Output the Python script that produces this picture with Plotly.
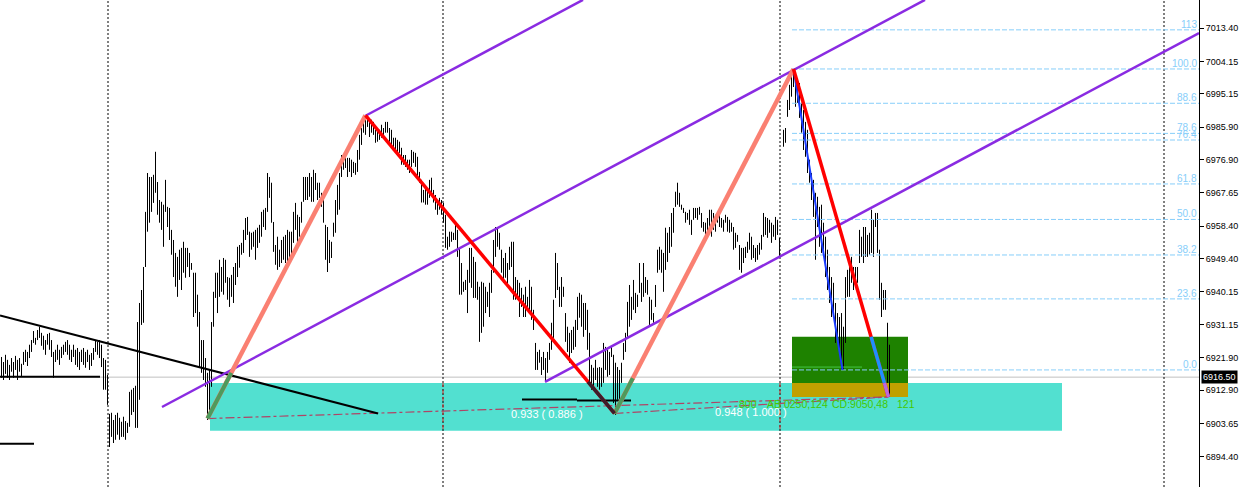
import plotly.graph_objects as go

# ---------------- price bars (high / low), one bar every 2 px, None = missing bar ----------------
HIGH = [
    # first session
    6922.1, 6920.7, 6922.7, 6921.3, 6919.9, 6921.8, 6920.7, 6922.4, 6921.3, 6921.8,
    6920.2, 6923.5, 6924.1, 6923.5, 6925.5, 6926.8, 6929.3, 6927.4, 6929.6, 6930.5,
    6928.8, 6928.0, 6926.8, 6928.5, 6928.8, 6926.8, 6923.5, 6924.1, 6925.5, 6924.1,
    6924.9, 6925.5, 6926.3, 6926.8, 6925.5, 6924.1, 6925.5, 6924.1, 6924.6, 6923.5,
    6924.1, 6924.6, 6923.5, 6924.1, 6922.7, 6923.2, 6924.6, 6926.8, 6926.3, 6926.8,
    6925.5, 6921.8, 6921.3, 6917.1, 6906.3, 6906.6, 6904.6, 6906.0, 6906.6, 6905.2,
    6904.1, 6905.5, 6904.3, 6903.8, 6912.4, 6913.0, 6913.5, 6914.1,
    # second part
    6931.8, 6937.1, 6940.7, 6947.1, 6962.4, 6973.2, 6972.1, 6972.1, 6972.7, 6979.1,
    6970.7, 6965.7, 6965.2, 6964.4, 6971.3, 6963.8, 6963.5, 6957.4, 6954.6, 6951.0,
    6949.9, 6951.9, 6952.4, 6954.1, 6952.4, 6952.4, 6951.0, 6948.2, 6945.5, 6945.5,
    6939.4, 6934.6, 6926.8, 6926.8, 6921.8, 6917.7, 6918.5, 6931.8, 6940.2, 6945.5,
    6945.5, 6949.1, 6947.1, 6949.6, 6949.1, 6944.3, 6944.1, 6944.9, 6947.1, 6948.2,
    6952.7, 6953.2, 6953.8, 6957.4, 6960.7, 6961.0, 6956.9, 6956.6, 6956.9, 6957.4,
    6958.0, 6958.8, 6962.4, 6963.0, 6963.5, 6973.2, 6972.1, 6970.5, 6959.6, 6953.2,
    6955.5, 6951.9, 6954.6, 6955.5, 6956.0, 6957.4, 6956.9, 6956.9, 6962.4, 6964.9,
    6961.6, 6961.0, 6965.2, 6972.1, 6972.1, 6972.1, 6973.2, 6972.1, 6974.1, 6973.2,
    6970.5, 6970.5, 6967.7, 6966.3, 6958.8, 6958.2, 6954.6, 6954.1, 6959.4, 6965.7,
    6969.9, 6973.2, 6978.2, 6977.4, 6978.8, 6977.4, 6977.4, 6976.9, 6976.3, 6976.0,
    6979.6, 6983.8, 6985.7, 6988.0, 6988.0, 6989.4, 6988.5, 6988.0, 6987.4, 6985.2,
    6984.6, 6985.2, 6986.6, 6985.7, 6987.4, 6987.4, 6985.7, 6985.2, 6983.0, 6983.0,
    6982.4, 6981.9, 6980.2, 6978.2, 6978.2, 6976.9, 6976.9, 6979.6, 6979.1, 6978.8,
    6977.7, 6973.5, 6971.3, 6968.5, 6969.4, 6968.5, 6971.3, 6971.9, 6968.5, 6967.1,
    6965.7, 6966.3, 6965.7, 6964.9, 6961.6, 6955.5, 6956.9, 6956.9, 6956.6, 6959.6,
    6957.4, 6952.4, 6948.2, 6943.0, 6943.5, 6946.3, 6952.4, 6952.4, 6949.9, 6948.5,
    6943.0, 6941.6, 6943.0, 6942.7, 6941.6, 6940.2, 6942.7, 6946.3, 6954.6, 6958.2,
    6957.9, 6956.6, 6951.9, 6949.6, 6951.0, 6948.2, 6952.7, 6954.1, 6954.1, 6944.3,
    6943.5, 6942.7, 6941.3, 6939.4, 6941.6, 6938.8, 6943.5, 6941.6, 6935.2, 6926.0,
    6923.5, 6924.1, 6922.1, 6923.5, 6921.8, 6923.5, 6926.0, 6931.6, 6938.0, 6951.0,
    6948.2, 6941.6, 6944.3, 6941.6, 6934.3, 6930.5, 6928.8, 6929.6, 6930.5, 6932.4,
    6938.8, 6939.9, 6939.4, 6937.1, 6937.1, 6935.2, 6928.8, 6919.9, 6919.1, 6921.3,
    6919.1, 6919.3, 6919.1, 6926.0, 6924.9, 6924.1, 6923.5, 6924.9, 6922.7, 6920.5,
    6919.3, 6918.5, 6920.5, 6926.0, 6928.8, 6937.4, 6942.1, 6938.8, 6943.5, 6939.9,
    6939.4, 6948.2, 6942.7, 6948.2, 6944.3, 6943.5, 6938.8, 6938.0, 6934.3, 6942.1,
    6951.9, 6952.7, 6951.9, 6951.0, 6958.0, 6956.6, 6958.2, 6962.1, 6963.5, 6968.0,
    6970.5, 6967.7, 6964.4, 6963.5, 6962.4, 6962.1, 6963.0, 6960.2, 6963.5, 6963.5,
    6963.5, 6963.8, 6962.1, 6959.6, 6959.4, 6960.7, 6963.0, 6963.0, 6962.1, 6961.6,
    6962.1, 6962.1, 6960.7, 6960.2, 6961.6, 6961.0, 6960.2, 6959.4, 6958.2, 6956.6,
    6956.0, 6953.2, 6952.4, 6952.4, 6952.7, 6954.1, 6956.6, 6955.5, 6953.2, 6952.4,
    6953.2, 6953.8, 6956.0, 6962.1, 6961.0, 6960.7, 6960.2, 6959.4, 6958.8, 6961.0,
    6960.2, 6955.2,
    None,
    # last session
    6985.2, 6985.7, 6993.5, 6997.7, 7000.5, 7002.1, 7000.5, 6999.6, 6998.2, 6992.7,
    6990.7, 6987.4, 6985.2, 6976.9, 6973.2, 6971.3, 6967.7, 6966.6, 6963.8, 6964.4,
    6959.4, 6955.5, 6951.9, 6947.1, 6944.3, 6942.7, 6937.1, 6934.3, 6933.2, 6934.3,
    6930.5, 6944.3, 6946.3, 6948.2, 6949.9, 6947.1, 6947.1, 6947.1, 6957.4, 6955.5,
    6958.2, 6958.2, 6956.0, 6956.6, 6963.0, 6960.2, 6962.1, 6962.1, 6951.9, 6942.7,
    6940.7, 6940.7, 6931.6, 6925.5,
]

LOW = [
    6916.3, 6915.7, 6917.4, 6916.3, 6915.7, 6918.0, 6916.3, 6918.5, 6915.7, 6918.0,
    6916.8, 6919.9, 6920.7, 6919.6, 6921.8, 6923.5, 6926.0, 6925.5, 6926.8, 6927.4,
    6925.2, 6924.1, 6922.7, 6925.5, 6924.1, 6922.1, 6916.3, 6920.7, 6921.3, 6919.9,
    6921.8, 6922.7, 6923.5, 6922.7, 6921.3, 6920.7, 6922.1, 6919.9, 6919.3, 6918.5,
    6920.7, 6919.9, 6919.1, 6920.7, 6918.5, 6919.6, 6921.3, 6923.5, 6922.7, 6921.8,
    6919.3, 6913.0, 6913.0, 6908.8, 6897.1, 6899.9, 6898.2, 6899.1, 6900.5, 6899.1,
    6899.9, 6899.9, 6899.1, 6901.0, 6902.7, 6906.0, 6906.8, 6902.4,
    6902.4, 6910.2, 6931.0, 6931.6, 6947.1, 6956.9, 6959.4, 6962.4, 6964.9, 6967.7,
    6961.6, 6959.4, 6957.4, 6952.7, 6962.4, 6958.2, 6954.6, 6950.5, 6944.3, 6941.6,
    6938.8, 6943.5, 6940.7, 6945.5, 6944.1, 6947.1, 6944.3, 6946.3, 6933.2, 6934.3,
    6930.5, 6919.3, 6917.7, 6915.7, 6913.8, 6904.6, 6905.2, 6913.8, 6930.5, 6938.5,
    6934.3, 6938.8, 6940.2, 6939.4, 6942.7, 6938.0, 6936.0, 6938.8, 6937.1, 6942.1,
    6944.3, 6946.9, 6950.5, 6951.0, 6954.6, 6956.0, 6949.9, 6951.9, 6952.7, 6949.1,
    6952.4, 6953.8, 6955.5, 6958.2, 6957.4, 6962.4, 6966.3, 6959.4, 6951.3, 6947.7,
    6946.3, 6947.1, 6948.2, 6949.1, 6948.2, 6947.1, 6949.1, 6950.5, 6953.8, 6957.4,
    6954.1, 6955.5, 6959.4, 6965.2, 6965.7, 6965.7, 6966.6, 6965.2, 6965.2, 6968.5,
    6965.7, 6966.3, 6963.8, 6959.4, 6949.1, 6945.7, 6948.2, 6949.6, 6955.5, 6956.6,
    6961.6, 6963.0, 6972.1, 6974.1, 6974.6, 6972.1, 6973.5, 6972.1, 6973.2, 6972.7,
    6973.5, 6976.9, 6981.0, 6984.4, 6983.8, 6986.0, 6983.2, 6984.4, 6983.8, 6981.6,
    6981.9, 6982.4, 6983.0, 6983.2, 6984.4, 6984.4, 6981.9, 6981.0, 6979.6, 6979.1,
    6978.2, 6978.8, 6975.5, 6975.5, 6974.9, 6974.1, 6973.2, 6974.9, 6976.0, 6974.9,
    6972.1, 6970.5, 6965.0, 6965.0, 6964.4, 6964.4, 6966.3, 6967.1, 6965.0, 6963.0,
    6961.6, 6963.0, 6961.6, 6959.4, 6952.4, 6951.9, 6952.7, 6954.1, 6954.6, 6954.6,
    6949.9, 6939.4, 6939.4, 6940.2, 6940.7, 6934.3, 6942.7, 6941.3, 6938.5, 6938.5,
    6938.0, 6926.3, 6928.8, 6930.5, 6934.3, 6936.0, 6933.2, 6939.9, 6945.5, 6949.9,
    6952.7, 6951.9, 6945.5, 6942.7, 6944.1, 6941.6, 6946.3, 6947.1, 6938.0, 6938.0,
    6938.0, 6933.2, 6936.0, 6933.2, 6933.2, 6936.0, 6935.2, 6932.4, 6929.6, 6918.5,
    6918.5, 6920.5, 6917.1, 6918.5, 6915.2, 6917.7, 6921.3, 6924.1, 6927.4, 6938.5,
    6940.7, 6936.0, 6936.0, 6938.8, 6926.3, 6923.5, 6920.5, 6923.2, 6924.1, 6924.9,
    6929.6, 6933.0, 6930.5, 6927.7, 6929.6, 6924.1, 6914.9, 6913.0, 6913.8, 6915.7,
    6913.8, 6913.0, 6913.8, 6914.9, 6918.5, 6916.6, 6917.1, 6922.1, 6909.3, 6906.0,
    6910.2, 6909.3, 6914.9, 6921.3, 6923.5, 6927.7, 6930.5, 6932.4, 6935.2, 6934.3,
    6936.0, 6939.9, 6937.4, 6938.8, 6939.9, 6939.4, 6930.5, 6932.4, 6931.6, 6936.0,
    6945.5, 6946.3, 6945.5, 6940.2, 6946.3, 6948.5, 6951.0, 6952.7, 6956.6, 6963.8,
    6964.4, 6963.8, 6963.0, 6962.1, 6959.4, 6960.2, 6958.8, 6956.0, 6960.2, 6960.7,
    6960.2, 6961.6, 6958.0, 6956.9, 6954.6, 6956.9, 6958.2, 6955.5, 6957.4, 6956.9,
    6959.4, 6958.2, 6958.0, 6956.9, 6959.4, 6956.9, 6956.6, 6956.9, 6951.9, 6952.4,
    6954.1, 6946.3, 6945.5, 6948.2, 6949.6, 6951.0, 6951.9, 6949.1, 6949.6, 6948.5,
    6949.1, 6950.5, 6951.9, 6955.5, 6956.0, 6955.2, 6956.6, 6953.8, 6955.5, 6954.6,
    6956.0, 6949.9,
    None,
    6980.5, 6981.6, 6988.8, 6990.7, 6994.4, 6997.1, 6991.6, 6992.7, 6988.5, 6984.4,
    6979.6, 6977.7, 6973.2, 6970.5, 6965.7, 6961.0, 6949.1, 6958.2, 6952.7, 6951.0,
    6951.9, 6944.3, 6940.7, 6937.1, 6933.2, 6934.3, 6926.0, 6926.8, 6924.1, 6918.5,
    6918.5, 6926.0, 6938.8, 6938.8, 6942.7, 6940.7, 6942.7, 6942.7, 6948.2, 6949.9,
    6948.2, 6949.9, 6949.9, 6950.5, 6951.0, 6949.9, 6958.2, 6951.0, 6938.0, 6933.2,
    6935.2, 6935.2, 6914.9, 6911.0,
]

# ---------------- axis ----------------
TICK_PRICES = [7013.40, 7004.15, 6995.15, 6985.90, 6976.90, 6967.65, 6958.40,
               6949.40, 6940.15, 6931.15, 6921.90, 6912.90, 6903.65, 6894.40]
TICK_TEXT = ["7013.40", "7004.15", "6995.15", "6985.90", "6976.90", "6967.65", "6958.40",
             "6949.40", "6940.15", "6931.15", "6921.90", "6912.90", "6903.65", "6894.40"]
Y_RANGE = [6885.98, 7021.26]
X_RANGE = [-0.75, 598.75]
CURRENT_PRICE = 6916.50
CURRENT_TEXT = "6916.50"
SEPARATORS = [53.25, 220.75, 389.25, 581.25]

# ---------------- zigzag pivots (bar index, price) ----------------
P0 = (103.0, 6905.0)
P1 = (182.0, 6989.2)
P2 = (306.5, 6906.4)
P3 = (396.0, 7002.1)
P4 = (443.5, 6911.0)
PB = (420.5, 6918.5)          # AB leg end

# fibonacci retracement (P3 high -> PB low)
FIB_HIGH = 7002.1
FIB_LOW = 6918.5
FIB_START = 395.25
FIB_LEVELS = [0.0, 23.6, 38.2, 50.0, 61.8, 76.4, 78.6, 88.6, 100.0, 113.0]
FIB_LABELS = ["0.0", "23.6", "38.2", "50.0", "61.8", "76.4", "78.6", "88.6", "100.0", "113"]

# pitchfork-like parallel channel lines (start, end)
CHANNEL = [((182.0, 6989.1), (290.75, 7021.3)),
           ((80.25, 6908.2), (461.75, 7021.3)),
           ((271.75, 6915.2), (598.75, 7012.1))]

# black trend / level lines
TRENDLINE = ((-0.75, 6933.6), (188.25, 6906.4))
LEVELS_BLACK = [((-0.75, 6916.6), (49.25, 6916.6)),
                ((-0.75, 6898.0), (16.25, 6898.0)),
                ((260.25, 6910.3), (287.75, 6910.3)),
                ((287.75, 6910.0), (314.75, 6910.0))]

# zones
ZONE_TURQ = ((104.25, 6901.6), (530.25, 6914.9))
ZONE_GREEN = ((395.25, 6914.9), (453.25, 6927.7))
ZONE_GOLD = ((395.25, 6911.0), (453.25, 6914.9))
GREEN_MARK = ((395.25, 6919.3), (430.25, 6919.3))

# colour change thresholds along legs
GREEN_TOP_1 = 6917.7
GREEN_TOP_2 = 6916.2
DARK_FROM = 6915.2
BLUE_FROM = 6927.7
VIOLET_FROM = 6914.9

# text labels (bar index, price)
LBL_1 = (272.75, 6906.3, "0.933 ( 0.886 )")
LBL_2 = (374.75, 6906.8, "0.948 ( 1.000 )")
LBL_G = [(368.1, 6909.0, "800"), (382.25, 6909.0, "AB 0250,124"),
         (414.5, 6909.0, "CD:9050,48"), (447.1, 6909.0, "121")]


def at_price(a, b, price):
    t = (price - a[1]) / (b[1] - a[1])
    return (a[0] + t * (b[0] - a[0]), price)


def line(a, b, color, width, dash="solid", layer="above"):
    return dict(type="line", xref="x", yref="y", x0=a[0], y0=a[1], x1=b[0], y1=b[1],
                line=dict(color=color, width=width, dash=dash), layer=layer)


def rect(a, b, color):
    return dict(type="rect", xref="x", yref="y", x0=a[0], y0=a[1], x1=b[0], y1=b[1],
                fillcolor=color, line=dict(width=0), layer="below")


# bars trace
bx, by = [], []
for i, (h, l) in enumerate(zip(HIGH, LOW)):
    if h is None:
        continue
    bx += [i, i, None]
    by += [l, h, None]

fig = go.Figure()
fig.add_trace(go.Scatter(x=bx, y=by, mode="lines", line=dict(color="black", width=1),
                         hoverinfo="skip", connectgaps=False))

shapes = []
shapes.append(rect(*ZONE_TURQ, "#52E0D0"))
shapes.append(rect(*ZONE_GREEN, "#1E8200"))
shapes.append(rect(*ZONE_GOLD, "#C0A000"))
shapes.append(dict(type="line", xref="paper", yref="y", x0=0, x1=1, y0=CURRENT_PRICE, y1=CURRENT_PRICE,
                   line=dict(color="#C0C0C0", width=1), layer="below"))

# period separators
for s in SEPARATORS:
    shapes.append(dict(type="line", xref="x", yref="paper", x0=s, x1=s, y0=0, y1=1,
                       line=dict(color="black", width=1, dash="2px,2px")))
    if ZONE_TURQ[0][0] < s < ZONE_TURQ[1][0]:
        shapes.append(line((s, ZONE_TURQ[1][1]), (s, ZONE_TURQ[0][1]), "#E02828", 1, "4px,3px"))

shapes.append(line(*GREEN_MARK, "#44C844", 1))

# fib levels
for lv in FIB_LEVELS:
    p = FIB_LOW + (FIB_HIGH - FIB_LOW) * lv / 100.0
    shapes.append(line((FIB_START, p), (X_RANGE[1], p), "#87CEFA", 1, "5px,2px"))

# dash-dot connectors
shapes.append(line(P0, P4, "#B04466", 1.2, "dashdot"))
shapes.append(line(P2, P4, "#B04466", 1.2, "dashdot"))

# black lines
shapes.append(line(*TRENDLINE, "black", 2))
for a, b in LEVELS_BLACK:
    shapes.append(line(a, b, "black", 2))

# channel
for a, b in CHANNEL:
    shapes.append(line(a, b, "#8A2BE2", 2.5))

# zigzag legs
shapes.append(line(P0, P1, "#FA8072", 4.5))
shapes.append(line(P2, P3, "#FA8072", 4.5))
shapes.append(line(P0, at_price(P0, P1, GREEN_TOP_1), "#4E9A5C", 4))
shapes.append(line(P2, at_price(P2, P3, GREEN_TOP_2), "#4E9A5C", 4))
shapes.append(line(P1, P2, "#FF0000", 3.5))
shapes.append(line(at_price(P1, P2, DARK_FROM), P2, "#3C1E2C", 3.5))
shapes.append(line(P3, PB, "#1A3CFF", 2))
shapes.append(line(P3, P4, "#FF0000", 3.5))
shapes.append(line(at_price(P3, P4, BLUE_FROM), at_price(P3, P4, VIOLET_FROM), "#1E90FF", 3.5))
shapes.append(line(at_price(P3, P4, VIOLET_FROM), P4, "#B868E0", 3.5))

annotations = []
FIB_FONT = dict(family="Liberation Sans, Arial, sans-serif", size=10, color="#87CEFA")
for lv, txt in zip(FIB_LEVELS, FIB_LABELS):
    p = FIB_LOW + (FIB_HIGH - FIB_LOW) * lv / 100.0
    annotations.append(dict(xref="x", yref="y", x=598.0, y=p, text=txt, showarrow=False,
                            xanchor="right", yanchor="bottom", font=FIB_FONT, borderpad=0, yshift=-1))

WHITE_FONT = dict(family="Liberation Sans, Arial, sans-serif", size=11, color="white")
for xx, yy, txt in (LBL_1, LBL_2):
    annotations.append(dict(xref="x", yref="y", x=xx, y=yy, text=txt, showarrow=False,
                            xanchor="center", yanchor="middle", font=WHITE_FONT))
GREEN_FONT = dict(family="Liberation Sans, Arial, sans-serif", size=10.5, color="#44C800")
for xx, yy, txt in LBL_G:
    annotations.append(dict(xref="x", yref="y", x=xx, y=yy, text=txt, showarrow=False,
                            xanchor="left", yanchor="middle", font=GREEN_FONT, borderpad=0))

AXIS_FONT = dict(family="Liberation Sans, Arial, sans-serif", size=9, color="black")
annotations.append(dict(xref="paper", yref="y", x=1, y=CURRENT_PRICE, text=CURRENT_TEXT, showarrow=False,
                        xanchor="left", yanchor="middle", xshift=2, bgcolor="black", borderpad=1,
                        font=dict(family="Liberation Sans, Arial, sans-serif", size=9, color="white")))

fig.update_layout(
    width=1240, height=487,
    margin=dict(l=0, r=41, t=0, b=0, autoexpand=False),
    paper_bgcolor="white", plot_bgcolor="white",
    showlegend=False,
    shapes=shapes, annotations=annotations,
    xaxis=dict(range=X_RANGE, visible=False, showgrid=False, zeroline=False, automargin=False),
    yaxis=dict(range=Y_RANGE, side="right", tickmode="array", tickvals=TICK_PRICES, ticktext=TICK_TEXT,
               ticks="outside", ticklen=4, tickwidth=1, tickcolor="black", automargin=False,
               showline=True, linecolor="black", linewidth=1, mirror=False,
               showgrid=False, zeroline=False, tickfont=AXIS_FONT),
)

fig.write_html("out.html", config={"displayModeBar": False},
               post_script="document.body.style.margin='0';document.body.style.overflow='hidden';")
